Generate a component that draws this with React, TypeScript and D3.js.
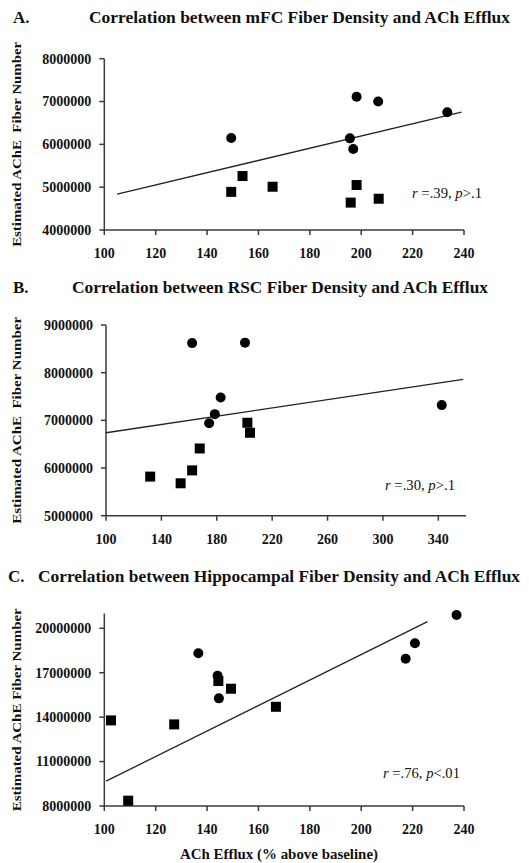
import React from "react";
import * as d3 from "d3";

// ---------- Panel A: mFC ----------
const aTitle = "Correlation between mFC Fiber Density and ACh Efflux";
const aCircleX = [149.4, 198.2, 206.6, 233.5, 195.6, 196.9];
const aCircleY = [6150000, 7110000, 7000000, 6750000, 6140000, 5890000];
const aSquareX = [149.4, 153.8, 165.5, 198.2, 195.9, 206.8];
const aSquareY = [4890000, 5260000, 5010000, 5050000, 4640000, 4730000];
const aLineX = [105, 239];
const aLineY = [4840000, 6750000];
const aXTicks = [100, 120, 140, 160, 180, 200, 220, 240];
const aYTicks = [4000000, 5000000, 6000000, 7000000, 8000000];
const aStat = ["r", " =.39, ", "p", ">.1"];

// ---------- Panel B: RSC ----------
const bTitle = "Correlation between RSC Fiber Density and ACh Efflux";
const bCircleX = [162.2, 200.4, 182.8, 178.6, 174.5, 342.5];
const bCircleY = [8620000, 8630000, 7480000, 7130000, 6940000, 7320000];
const bSquareX = [202.1, 204.0, 167.7, 162.2, 131.9, 153.9];
const bSquareY = [6950000, 6740000, 6410000, 5950000, 5820000, 5680000];
const bLineX = [100, 358];
const bLineY = [6740000, 7860000];
const bXTicks = [100, 140, 180, 220, 260, 300, 340];
const bYTicks = [5000000, 6000000, 7000000, 8000000, 9000000];
const bStat = ["r", " =.30, ", "p", ">.1"];

// ---------- Panel C: Hippocampus ----------
const cTitle = "Correlation between Hippocampal Fiber Density and ACh Efflux";
const cCircleX = [237.1, 220.9, 217.3, 136.6, 144.1, 144.6];
const cCircleY = [20900000, 18990000, 17950000, 18310000, 16800000, 15270000];
const cSquareX = [144.4, 149.3, 166.8, 127.2, 102.6, 109.3];
const cSquareY = [16440000, 15920000, 14700000, 13510000, 13780000, 8360000];
const cLineX = [100.7, 225.8];
const cLineY = [9680000, 20450000];
const cXTicks = [100, 120, 140, 160, 180, 200, 220, 240];
const cYTicks = [8000000, 11000000, 14000000, 17000000, 20000000];
const cStat = ["r", " =.76, ", "p", "<.01"];

const xAxisTitle = "ACh Efflux (% above baseline)";
const yAxisTitleAB = "Estimated AChE  Fiber Number";
const yAxisTitleC = "Estimated AChE Fiber Number";

const FONT = "'Liberation Serif', 'Times New Roman', serif";
const AXIS = "#3a3a3a";

type PanelProps = {
  letter: string;
  letterX: number;
  title: string;
  titleX: number;
  titleLen: number;
  titleY: number;
  xDomain: [number, number];
  xRange: [number, number];
  yDomain: [number, number];
  yRange: [number, number];
  xTicks: number[];
  yTicks: number[];
  circleX: number[];
  circleY: number[];
  squareX: number[];
  squareY: number[];
  lineX: number[];
  lineY: number[];
  stat: string[];
  statX: number;
  statY: number;
  statLen: number;
  yLabel: string;
  yLabelLen: number;
};

function Panel(p: PanelProps) {
  const x = d3.scaleLinear().domain(p.xDomain).range(p.xRange);
  const y = d3.scaleLinear().domain(p.yDomain).range(p.yRange);
  const x0 = p.xRange[0];
  const yBase = p.yRange[0];
  const line = d3
    .line<number>()
    .x((_, i) => x(p.lineX[i]))
    .y((d) => y(d));
  const yMid = (p.yRange[0] + p.yRange[1]) / 2;
  return (
    <g>
      <text x={p.letterX} y={p.titleY} fontFamily={FONT} fontWeight="bold" fontSize={17} fill="#111">
        {p.letter}
      </text>
      <text
        x={p.titleX}
        y={p.titleY}
        fontFamily={FONT}
        fontWeight="bold"
        fontSize={17}
        fill="#111"
        textLength={p.titleLen}
        lengthAdjust="spacingAndGlyphs"
      >
        {p.title}
      </text>
      {/* y axis title */}
      <text
        transform={`translate(21,${yMid}) rotate(-90)`}
        textAnchor="middle"
        fontFamily={FONT}
        fontWeight="bold"
        fontSize={13.5}
        fill="#111"
        textLength={p.yLabelLen}
        lengthAdjust="spacingAndGlyphs"
        style={{ whiteSpace: "pre" }}
      >
        {p.yLabel}
      </text>
      {/* axes */}
      <line x1={x0} x2={x0} y1={p.yRange[0]} y2={p.yRange[1]} stroke={AXIS} strokeWidth={1.5} />
      <line x1={x0} x2={p.xRange[1]} y1={yBase} y2={yBase} stroke={AXIS} strokeWidth={1.5} />
      {p.yTicks.map((t) => (
        <g key={"y" + t}>
          <line x1={x0 - 5} x2={x0} y1={y(t)} y2={y(t)} stroke={AXIS} strokeWidth={1.5} />
          <text
            x={x0 - 13}
            y={y(t)}
            dy="0.35em"
            textAnchor="end"
            fontFamily={FONT}
            fontWeight="bold"
            fontSize={14}
            fill="#111"
          >
            {String(t)}
          </text>
        </g>
      ))}
      {p.xTicks.map((t) => (
        <g key={"x" + t}>
          <line x1={x(t)} x2={x(t)} y1={yBase} y2={yBase + 5} stroke={AXIS} strokeWidth={1.5} />
          <text
            x={x(t)}
            y={yBase + 28}
            textAnchor="middle"
            fontFamily={FONT}
            fontWeight="bold"
            fontSize={14}
            fill="#111"
          >
            {String(t)}
          </text>
        </g>
      ))}
      {/* regression line */}
      <path d={line(p.lineY) || ""} fill="none" stroke="#222" strokeWidth={1.3} />
      {/* points */}
      {p.circleX.map((cx, i) => (
        <circle key={"c" + i} cx={x(cx)} cy={y(p.circleY[i])} r={5} fill="#000" />
      ))}
      {p.squareX.map((sx, i) => (
        <rect key={"s" + i} x={x(sx) - 5} y={y(p.squareY[i]) - 5} width={10} height={10} fill="#000" />
      ))}
      <text
        x={p.statX}
        y={p.statY}
        fontFamily={FONT}
        fontSize={14}
        fill="#111"
        textLength={p.statLen}
        lengthAdjust="spacingAndGlyphs"
        style={{ whiteSpace: "pre" }}
      >
        <tspan fontStyle="italic">{p.stat[0]}</tspan>
        <tspan>{p.stat[1]}</tspan>
        <tspan fontStyle="italic">{p.stat[2]}</tspan>
        <tspan>{p.stat[3]}</tspan>
      </text>
    </g>
  );
}

export default function App() {
  return (
    <svg
      width={529}
      height={863}
      style={{ position: "absolute", left: 0, top: 0, background: "#fff" }}
    >
      <rect width={529} height={863} fill="#fff" />
      <Panel
        letter="A."
        letterX={13}
        title={aTitle}
        titleX={89}
        titleLen={421}
        titleY={23}
        xDomain={[100, 240]}
        xRange={[104.3, 464]}
        yDomain={[4000000, 8000000]}
        yRange={[230, 58.7]}
        xTicks={aXTicks}
        yTicks={aYTicks}
        circleX={aCircleX}
        circleY={aCircleY}
        squareX={aSquareX}
        squareY={aSquareY}
        lineX={aLineX}
        lineY={aLineY}
        stat={aStat}
        statX={412}
        statY={198}
        statLen={70}
        yLabel={yAxisTitleAB}
        yLabelLen={205}
      />
      <Panel
        letter="B."
        letterX={13}
        title={bTitle}
        titleX={72}
        titleLen={416}
        titleY={293}
        xDomain={[100, 360]}
        xRange={[106, 466]}
        yDomain={[5000000, 9000000]}
        yRange={[515.7, 325]}
        xTicks={bXTicks}
        yTicks={bYTicks}
        circleX={bCircleX}
        circleY={bCircleY}
        squareX={bSquareX}
        squareY={bSquareY}
        lineX={bLineX}
        lineY={bLineY}
        stat={bStat}
        statX={385}
        statY={490}
        statLen={70}
        yLabel={yAxisTitleAB}
        yLabelLen={207}
      />
      <Panel
        letter="C."
        letterX={8}
        title={cTitle}
        titleX={38}
        titleLen={482}
        titleY={582}
        xDomain={[100, 240]}
        xRange={[104.3, 464]}
        yDomain={[8000000, 21000000]}
        yRange={[806, 613.5]}
        xTicks={cXTicks}
        yTicks={cYTicks}
        circleX={cCircleX}
        circleY={cCircleY}
        squareX={cSquareX}
        squareY={cSquareY}
        lineX={cLineX}
        lineY={cLineY}
        stat={cStat}
        statX={383}
        statY={778}
        statLen={77}
        yLabel={yAxisTitleC}
        yLabelLen={203}
      />
      <text
        x={279}
        y={859}
        textAnchor="middle"
        fontFamily={FONT}
        fontWeight="bold"
        fontSize={14}
        fill="#111"
        textLength={198}
        lengthAdjust="spacingAndGlyphs"
      >
        {xAxisTitle}
      </text>
    </svg>
  );
}
